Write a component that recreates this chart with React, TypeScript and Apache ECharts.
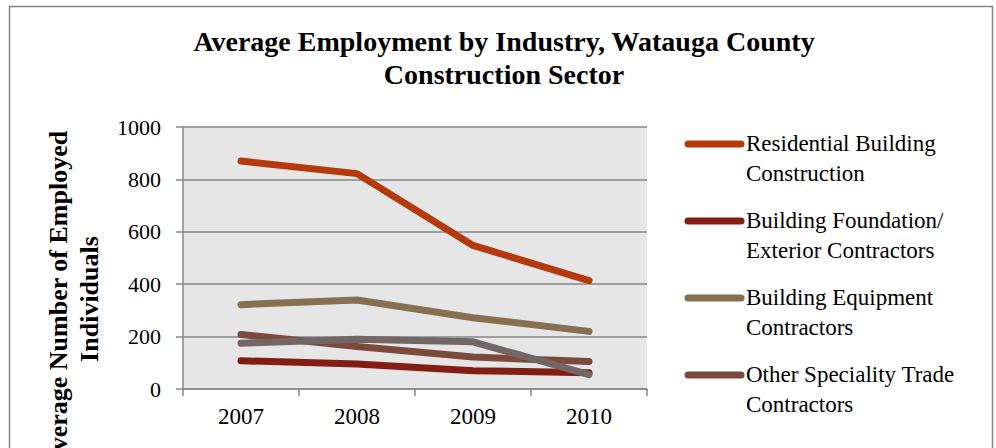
import React, { useEffect, useRef } from "react";
import * as echarts from "echarts";

const years = ["2007", "2008", "2009", "2010"];
const residential = [870, 822, 548, 414];
const foundation = [108, 95, 70, 62];
const equipment = [322, 340, 272, 220];
const otherTrade = [208, 162, 122, 105];
const fifthSeries = [175, 190, 180, 55];
const yTicks = [0, 200, 400, 600, 800, 1000];
const seriesNames = [
  "Residential Building\nConstruction",
  "Building Foundation/\nExterior Contractors",
  "Building Equipment\nContractors",
  "Other Speciality Trade\nContractors",
  "Specialty Trade Contractors",
];
const seriesColors = ["#B5390D", "#821E14", "#857151", "#7B4A3D", "#736766"];

const FONT = "'Liberation Serif', 'Times New Roman', serif";

export default function App() {
  const ref = useRef<HTMLDivElement>(null);
  useEffect(() => {
    if (!ref.current) return;
    const chart = echarts.init(ref.current, undefined, { renderer: "svg" });
    const allData = [residential, foundation, equipment, otherTrade, fifthSeries];
    const series = allData.map((data, i) => ({
      name: seriesNames[i],
      type: "line",
      data,
      symbol: "none",
      lineStyle: { width: 7, color: seriesColors[i], cap: "round", join: "round" },
      itemStyle: { color: seriesColors[i] },
      z: 3,
    }));
    const legendX = 685;
    const legendTop = 144;
    const legendStep = 77;
    const legendGraphics: any[] = [];
    for (let i = 0; i < 4; i++) {
      const y = legendTop + i * legendStep;
      legendGraphics.push({
        type: "line",
        shape: { x1: legendX + 3, y1: y, x2: legendX + 56, y2: y },
        style: { stroke: seriesColors[i], lineWidth: 7, lineCap: "round" },
      });
      legendGraphics.push({
        type: "text",
        x: legendX + 61,
        y: y - 16,
        style: {
          text: seriesNames[i],
          font: `23px ${FONT}`,
          lineHeight: 30,
          fill: "#000",
          align: "left",
          verticalAlign: "top",
        },
      });
    }
    chart.setOption({
      animation: false,
      backgroundColor: "#ffffff",
      title: {
        text: "Average Employment by Industry, Watauga County\nConstruction Sector",
        left: 499,
        textAlign: "center",
        top: 20,
        textStyle: {
          fontFamily: FONT,
          fontWeight: "bold",
          fontSize: 28,
          lineHeight: 33,
          color: "#000",
        },
      },
      graphic: [
        {
          type: "rect",
          shape: { x: 9.5, y: 6.5, width: 983, height: 460 },
          style: { fill: "none", stroke: "#868686", lineWidth: 1.5 },
          z: 0,
        },
        {
          type: "text",
          x: 74,
          y: 299,
          rotation: Math.PI / 2,
          style: {
            text: "Average Number of Employed\nIndividuals",
            font: `bold 26px ${FONT}`,
            lineHeight: 31,
            fill: "#000",
            align: "center",
            verticalAlign: "middle",
          },
        },
        ...legendGraphics,
      ],
      grid: {
        left: 183,
        top: 127,
        right: 349,
        bottom: 59,
        show: true,
        backgroundColor: "#E6E6E6",
        borderWidth: 0,
      },
      xAxis: {
        type: "category",
        data: years,
        boundaryGap: true,
        axisLine: { lineStyle: { color: "#868686", width: 1.5 } },
        axisTick: { show: true, length: 7, lineStyle: { color: "#868686", width: 1.5 } },
        axisLabel: { fontFamily: FONT, fontSize: 23, color: "#000", margin: 16 },
      },
      yAxis: {
        type: "value",
        min: yTicks[0],
        max: yTicks[yTicks.length - 1],
        interval: 200,
        axisLine: { show: true, lineStyle: { color: "#868686", width: 1.5 } },
        axisTick: { show: true, length: 7, lineStyle: { color: "#868686", width: 1.5 } },
        splitLine: { show: true, lineStyle: { color: "#868686", width: 1.5 } },
        axisLabel: {
          fontFamily: FONT,
          fontSize: 22,
          color: "#000",
          margin: 22,
          formatter: (v: number) => String(v),
        },
      },
      series,
    });
    return () => chart.dispose();
  }, []);
  return (
    <div
      ref={ref}
      style={{ position: "absolute", left: 0, top: 0, width: 996, height: 448 }}
    />
  );
}
